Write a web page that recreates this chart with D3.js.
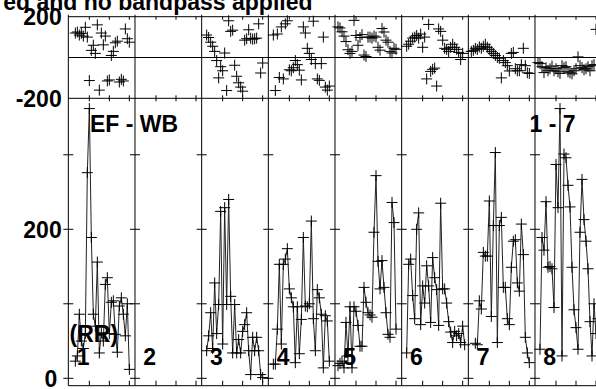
<!DOCTYPE html>
<html><head><meta charset="utf-8">
<script src="https://cdn.jsdelivr.net/npm/d3@7"></script>
<style>html,body{margin:0;padding:0;background:#fff;overflow:hidden}</style>
</head><body>
<svg id="c" width="596" height="389" xmlns="http://www.w3.org/2000/svg"></svg>
<script>
// ---------- data (channel 1..31 per IF panel; null = no data) ----------
const panelLabels = ["1","2","3","4","5","6","7","8"];
const channelTicks = [10, 20, 30];
const ampTicks = [0, 100, 200, 300];
const ampTickLabels = ["0", "200"];
const phaseTickLabels = ["200", "-200"];
const titleText = "ed and no bandpass applied";
const baselineLabel = "EF - WB";
const sourceLabel = "1 - 7";
const polLabel = "(RR)";

const amp1 = [null,null,23,30,86,50,40,60,276,362,189,86,70,156,34,61,50,126,135,60,102,104,59,35,97,108,86,57,100,12,null];
const amp2 = Array(31).fill(null);
const amp3 = [null,37,57,88,40,128,60,99,224,46,229,99,240,110,34,99,34,52,34,63,72,88,37,5,55,37,55,37,5,1,null];
const amp4 = [null,19,19,66,153,46,153,160,174,120,108,96,21,96,33,79,189,97,96,100,211,80,37,119,108,86,14,84,77,23,null];
const amp5 = [17,20,23,14,75,30,96,14,96,90,71,43,43,122,102,88,85,82,196,272,157,120,158,122,88,59,55,236,209,66,null];
const amp6 = [null,34,153,160,111,80,200,222,72,124,101,151,124,75,162,135,119,71,235,120,120,101,76,62,48,63,57,60,48,70,45];
const amp7 = [null,null,47,45,104,93,169,164,164,238,83,205,303,48,205,216,122,122,80,72,149,184,186,128,117,207,166,55,34,21,null];
const amp8 = [null,39,189,172,237,149,150,147,95,287,229,362,30,301,296,259,230,149,92,68,39,196,267,213,184,147,76,30,100,60,80];

const phase1 = [null,null,120,125,110,118,105,148,100,-113,35,60,20,160,-160,120,62,105,-115,-110,10,30,72,80,-120,-107,-115,140,92,75,null];
const phase2 = Array(31).fill(null);
const phase3 = [null,110,98,75,55,30,-15,-100,-45,-65,22,-162,180,128,134,-38,-92,-124,-145,-165,85,92,136,94,90,92,95,165,-76,-27,null];
const phase4 = [null,110,-162,115,-98,150,-105,165,180,-60,-65,-50,-15,-35,-62,-110,150,120,45,20,-10,178,-30,-105,-112,-30,100,-145,-160,-140,null];
const phase5 = [150,145,126,105,78,38,20,30,182,108,60,98,112,12,5,100,100,95,105,100,50,36,142,125,85,75,30,22,45,40,null];
const phase6 = [null,55,65,80,95,100,108,95,115,50,100,-105,162,-68,-58,-52,-140,140,128,85,45,40,30,50,65,50,40,25,-10,20,null];
const phase7 = [30,35,45,40,52,45,55,65,50,40,30,20,10,0,-4,-100,-15,-25,-40,-66,20,25,-55,-65,-65,-35,45,-40,-75,-78,null];
const phase8 = [-25,-30,-45,-74,-50,-65,-55,-42,-65,-55,-70,-78,-40,-50,-45,-70,-75,-80,-65,-55,3,-40,-50,-60,-55,-45,-65,-40,-35,138,null];

const ampData = [amp1, amp2, amp3, amp4, amp5, amp6, amp7, amp8];
const phaseData = [phase1, phase2, phase3, phase4, phase5, phase6, phase7, phase8];

// ---------- layout ----------
const svg = d3.select("#c");
const plotLeft = 68.33, panelW = 66.667;
const phaseTop = 16.7, phaseBottom = 98.3, ampBottom = 385.7;
const nPanels = panelLabels.length;
const plotRight = plotLeft + nPanels * panelW;
const FONT = "'Liberation Sans', Arial, Helvetica, sans-serif";

const yA = d3.scaleLinear().domain([-9.93, 375.8]).range([ampBottom, phaseBottom]);
const yP = d3.scaleLinear().domain([-200, 200]).range([phaseBottom, phaseTop]);
const panelX = i => d3.scaleLinear().domain([-0.5, 32.83]).range([plotLeft + i*panelW, plotLeft + (i+1)*panelW]);

const gFrame = svg.append("g").attr("stroke", "#000").attr("stroke-width", 1).attr("fill", "none");
[phaseTop, yP(0), phaseBottom, ampBottom].forEach(y => {
  gFrame.append("line").attr("x1", plotLeft).attr("x2", plotRight).attr("y1", y).attr("y2", y);
});
d3.range(nPanels + 1).forEach(i => {
  const x = plotLeft + i*panelW;
  gFrame.append("line").attr("x1", x).attr("x2", x).attr("y1", phaseTop - 2).attr("y2", ampBottom);
  ampTicks.forEach(v => {
    gFrame.append("line").attr("x1", x - 5).attr("x2", x + 5).attr("y1", yA(v)).attr("y2", yA(v));
  });
});
d3.range(nPanels).forEach(i => {
  const xs = panelX(i);
  channelTicks.forEach(c => {
    const x = xs(c);
    gFrame.append("line").attr("x1", x).attr("x2", x).attr("y1", phaseTop).attr("y2", phaseTop + 3);
    gFrame.append("line").attr("x1", x).attr("x2", x).attr("y1", phaseBottom - 3).attr("y2", phaseBottom + 3);
    gFrame.append("line").attr("x1", x).attr("x2", x).attr("y1", ampBottom - 5).attr("y2", ampBottom);
  });
});

// ---------- data marks ----------
const gData = svg.append("g").attr("stroke", "#000").attr("stroke-width", 1).attr("fill", "none");
const crossPath = (x, y, h) => `M${x-h},${y}h${2*h}M${x},${y-h}v${2*h}`;
d3.range(nPanels).forEach(i => {
  const xs = panelX(i);
  const amp = ampData[i].map((v, k) => ({ch: k + 1, v}));
  const ph = phaseData[i].map((v, k) => ({ch: k + 1, v}));
  const line = d3.line().defined(d => d.v != null).x(d => xs(d.ch)).y(d => yA(d.v));
  gData.append("path").attr("d", line(amp)).attr("stroke", "#222");
  amp.filter(d => d.v != null).forEach(d => {
    gData.append("path").attr("d", crossPath(xs(d.ch), yA(d.v), 5.5));
  });
  ph.filter(d => d.v != null).forEach(d => {
    gData.append("path").attr("d", crossPath(xs(d.ch), yP(d.v), 5.5));
  });
});

// ---------- text ----------
const gText = svg.append("g").attr("font-family", FONT).attr("font-weight", "bold").attr("font-size", 23).attr("fill", "#000");
gText.append("text").attr("x", 312.5).attr("y", 9.5).attr("text-anchor", "end").text(titleText);
gText.append("text").attr("x", 61.7).attr("y", yP(200) + 8.5).attr("text-anchor", "end").text(phaseTickLabels[0]);
gText.append("text").attr("x", 61.7).attr("y", yP(-200) + 8.5).attr("text-anchor", "end").text(phaseTickLabels[1]);
gText.append("text").attr("x", 61.7).attr("y", yA(200) + 8.5).attr("text-anchor", "end").text(ampTickLabels[1]);
gText.append("text").attr("x", 57.3).attr("y", yA(0) + 8.3).attr("text-anchor", "end").text(ampTickLabels[0]);
gText.append("text").attr("x", 90).attr("y", 131.5).text(baselineLabel);
gText.append("text").attr("x", 529.5).attr("y", 131.5).text(sourceLabel);
gText.append("text").attr("x", 69.5).attr("y", 341.5).text(polLabel);
panelLabels.forEach((t, i) => {
  gText.append("text").attr("x", plotLeft + i*panelW + 8.3).attr("y", 364.5).text(t);
});
</script>
</body></html>
